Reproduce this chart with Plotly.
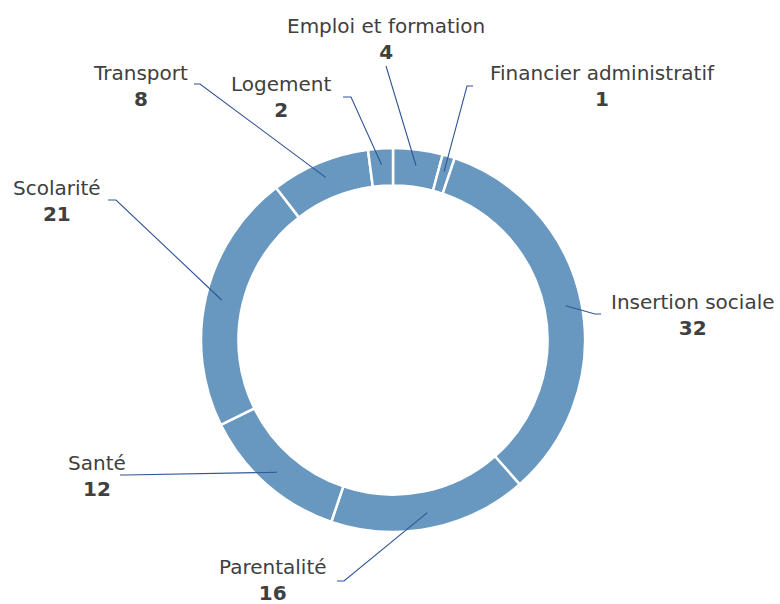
import math
import plotly.graph_objects as go

categories = ["Emploi et formation", "Financier administratif", "Insertion sociale",
              "Parentalité", "Santé", "Scolarité", "Transport", "Logement"]
values = [4, 1, 32, 16, 12, 21, 8, 2]

W, H = 780, 604
cx, cy, R = 393, 340, 192   # donut centre / outer radius in pixels
r_tip = 176                 # where the leader line touches the ring

# label centre (x, y) and leader elbow (x, y) + end (x, y), in pixels
label_pos = {
    "Emploi et formation": (386, 39, None, (386, 66)),
    "Financier administratif": (602, 86, (467, 86), (473, 86)),
    "Insertion sociale": (693, 315, (595, 314), (601, 314)),
    "Parentalité": (273, 580, (344, 581), (337, 581)),
    "Santé": (97, 476, (125, 475), (120, 475)),
    "Scolarité": (57, 201, (116, 200), (108, 200)),
    "Transport": (140, 86, (200, 84), (194, 84)),
    "Logement": (281, 97, (351, 97), (343, 97)),
}

fig = go.Figure()
fig.add_trace(go.Pie(
    labels=categories, values=values, hole=0.805, sort=False,
    direction="clockwise", rotation=0, textinfo="none", hoverinfo="label+value",
    marker=dict(colors=["#6897bf"] * len(values), line=dict(color="white", width=2.5)),
    domain=dict(x=[(cx - R) / W, (cx + R) / W], y=[(H - cy - R) / H, (H - cy + R) / H]),
    showlegend=False,
))

total = sum(values)
cum = 0
for cat, v in zip(categories, values):
    mid = (cum + v / 2) / total * 2 * math.pi
    cum += v
    tx = cx + r_tip * math.sin(mid)
    ty = cy - r_tip * math.cos(mid)
    lx, ly, elbow, end = label_pos[cat]
    path = f"M {tx:.1f},{ty:.1f}"
    if elbow:
        path += f" L {elbow[0]},{elbow[1]}"
    path += f" L {end[0]},{end[1]}"
    # leader line sits above the ring, like in the reference
    fig.add_shape(type="path", path=path, xref="x", yref="y", layer="above",
                  line=dict(color="#2f5597", width=1.1))
    fig.add_annotation(x=lx, y=ly, xref="x", yref="y", showarrow=False,
                       text=f"{cat}<br><b>{v}</b>", align="center",
                       font=dict(family="DejaVu Sans", size=20, color="#404040"))

fig.update_layout(
    width=W, height=H, margin=dict(l=0, r=0, t=0, b=0),
    paper_bgcolor="white", plot_bgcolor="rgba(0,0,0,0)",
    xaxis=dict(range=[0, W], visible=False, fixedrange=True),
    yaxis=dict(range=[H, 0], visible=False, fixedrange=True),
)
fig.write_html("out.html", config={"displayModeBar": False},
               post_script="document.body.style.margin='0';")
